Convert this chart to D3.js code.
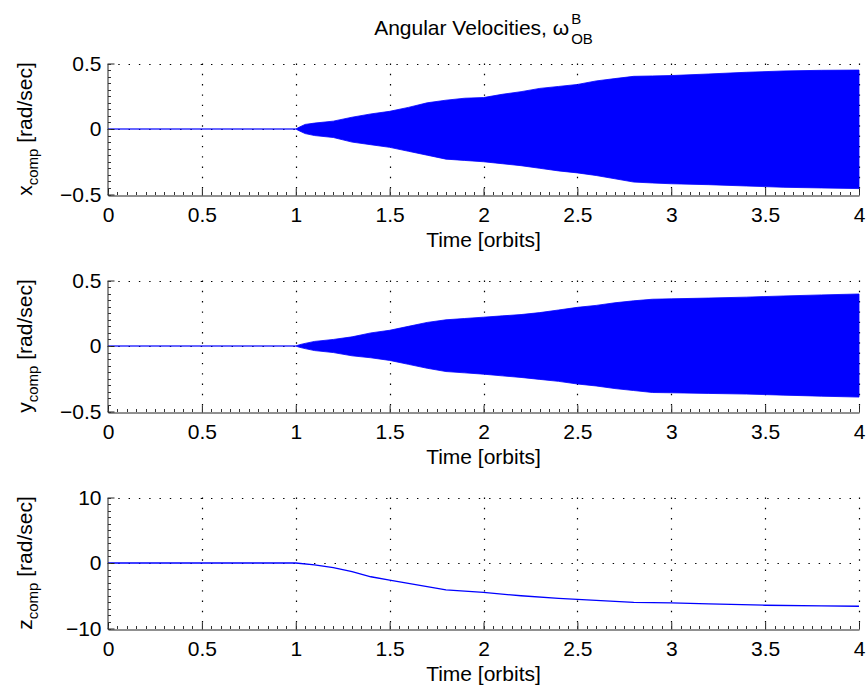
<!DOCTYPE html>
<html>
<head>
<meta charset="utf-8">
<script src="https://cdn.jsdelivr.net/npm/d3@7"></script>
<style>
  html, body { margin: 0; padding: 0; background: #fff; }
  svg { display: block; }
  text { font-family: "Liberation Sans", Arial, Helvetica, sans-serif; fill: #000; }
</style>
</head>
<body>
<script>
// ---------------- data ----------------
const xTicks = [0, 0.5, 1, 1.5, 2, 2.5, 3, 3.5, 4];
const xTickLabels = ["0", "0.5", "1", "1.5", "2", "2.5", "3", "3.5", "4"];
const yTicksSmall = [-0.5, 0, 0.5];
const yTickLabelsSmall = ["\u22120.5", "0", "0.5"];
const yTicksZ = [-10, 0, 10];
const yTickLabelsZ = ["\u221210", "0", "10"];

// flat segment before the manoeuvre
const flatT = [0, 1];
const flatV = [0, 0];

// envelope of the dense oscillation (x and y components)
const envT   = [1.0, 1.02, 1.05, 1.1, 1.2, 1.3, 1.4, 1.5, 1.6, 1.7, 1.8, 1.9, 2.0, 2.1, 2.2, 2.3, 2.4, 2.5, 2.6, 2.7, 2.8, 2.9, 3.0, 3.2, 3.4, 3.6, 3.8, 4.0];
const xUpper = [0, 0.015, 0.035, 0.045, 0.06, 0.09, 0.115, 0.135, 0.165, 0.20, 0.22, 0.235, 0.24, 0.265, 0.285, 0.31, 0.325, 0.34, 0.367, 0.385, 0.402, 0.405, 0.408, 0.42, 0.433, 0.443, 0.448, 0.45];
const xLower = [0, -0.015, -0.035, -0.05, -0.065, -0.10, -0.12, -0.14, -0.17, -0.20, -0.23, -0.24, -0.25, -0.265, -0.28, -0.30, -0.32, -0.335, -0.355, -0.38, -0.405, -0.412, -0.418, -0.425, -0.435, -0.445, -0.45, -0.455];
const yUpper = [0, 0.01, 0.02, 0.035, 0.05, 0.07, 0.10, 0.12, 0.15, 0.18, 0.20, 0.21, 0.22, 0.23, 0.24, 0.255, 0.275, 0.295, 0.31, 0.33, 0.345, 0.357, 0.36, 0.366, 0.373, 0.382, 0.39, 0.397];
const yLower = [0, -0.01, -0.02, -0.035, -0.05, -0.075, -0.09, -0.11, -0.14, -0.17, -0.195, -0.205, -0.215, -0.228, -0.24, -0.255, -0.27, -0.29, -0.305, -0.325, -0.34, -0.355, -0.357, -0.362, -0.367, -0.375, -0.383, -0.39];

// z component
const zT = [0, 1.0, 1.1, 1.2, 1.3, 1.4, 1.5, 1.6, 1.7, 1.8, 1.9, 2.0, 2.2, 2.4, 2.5, 2.6, 2.8, 3.0, 3.2, 3.5, 3.8, 4.0];
const zV = [0, 0, -0.3, -0.7, -1.3, -2.1, -2.6, -3.1, -3.6, -4.1, -4.3, -4.5, -5.0, -5.4, -5.55, -5.7, -6.0, -6.1, -6.25, -6.45, -6.55, -6.6];

const titleMain = "Angular Velocities, \u03c9";
const titleSup = "B";
const titleSub = "OB";
const xLabelText = "Time [orbits]";
const yLabelMain = ["x", "y", "z"];
const yLabelSub = "comp";
const yLabelTail = " [rad/sec]";

// ---------------- layout ----------------
const W = 866, H = 691;
const left = 108, right = 859;
const panelTops = [63.5, 280.5, 497.5];
const panelH = 131;
const FS = 21;

const svg = d3.select("body").append("svg").attr("width", W).attr("height", H);

const x = d3.scaleLinear().domain([0, 4]).range([left, right]);

function drawPanel(i, yDomain, yTicks, yLabels, drawData) {
  const top = panelTops[i], bottom = top + panelH;
  const y = d3.scaleLinear().domain(yDomain).range([bottom, top]);
  const g = svg.append("g");

  // grid (dotted)
  const grid = g.append("g").attr("stroke", "#000").attr("stroke-width", 1.2)
    .attr("stroke-dasharray", "1.4,8.9").attr("fill", "none");
  xTicks.filter(t => t > 0).forEach(t => {
    grid.append("line").attr("x1", Math.round(x(t)) + 0.5).attr("x2", Math.round(x(t)) + 0.5)
      .attr("y1", top).attr("y2", bottom);
  });
  yTicks.filter(t => t > yDomain[0]).forEach(t => {
    grid.append("line").attr("y1", Math.round(y(t)) + 0.5).attr("y2", Math.round(y(t)) + 0.5)
      .attr("x1", left).attr("x2", right);
  });

  drawData(g, y);

  // axes (left and bottom only, ticks inward)
  const xAxis = d3.axisBottom(x).tickValues(xTicks).tickFormat((d, k) => xTickLabels[k])
    .tickSizeInner(-7).tickSizeOuter(0).tickPadding(11.5);
  const ax = g.append("g").attr("transform", `translate(0,${Math.round(bottom) + 0.5})`).call(xAxis);
  const yAxis = d3.axisLeft(y).tickValues(yTicks).tickFormat((d, k) => yLabels[k])
    .tickSizeInner(-7).tickSizeOuter(0).tickPadding(6);
  const ay = g.append("g").attr("transform", `translate(${left - 0.5},0)`).call(yAxis);
  [ax, ay].forEach(a => {
    a.select(".domain").attr("stroke", "#222");
    a.selectAll(".tick line").attr("stroke", "#222");
    a.selectAll("text").attr("font-size", FS).attr("font-family", '"Liberation Sans", Arial, sans-serif').attr("fill", "#000");
  });

  // minor ticks
  const minor = g.append("g").attr("stroke", "#333").attr("stroke-width", 1);
  const xm = d3.range(0, 4.0001, 0.05);
  xm.forEach(t => {
    minor.append("line").attr("x1", Math.round(x(t)) + 0.5).attr("x2", Math.round(x(t)) + 0.5)
      .attr("y1", Math.round(bottom)).attr("y2", Math.round(bottom) - 3);
  });
  const step = (yDomain[1] - yDomain[0]) / 20;
  d3.range(0, 21).map(k => yDomain[0] + k * step).forEach(t => {
    minor.append("line").attr("y1", Math.round(y(t)) + 0.5).attr("y2", Math.round(y(t)) + 0.5)
      .attr("x1", left).attr("x2", left + 3);
  });

  // x label
  g.append("text").attr("x", (left + right) / 2).attr("y", bottom + 52)
    .attr("text-anchor", "middle").attr("font-size", FS).text(xLabelText);

  // y label
  const yl = g.append("text").attr("transform", `translate(32,${(top + bottom) / 2}) rotate(-90)`)
    .attr("text-anchor", "middle").attr("font-size", FS);
  yl.append("tspan").text(yLabelMain[i]);
  yl.append("tspan").attr("font-size", 15).attr("dy", 6).text(yLabelSub);
  yl.append("tspan").attr("dy", -6).text(yLabelTail);
}

function envelopePanel(upper, lower) {
  return (g, y) => {
    const flat = flatT.map((t, k) => ({ t, v: flatV[k] }));
    g.append("path").datum(flat)
      .attr("d", d3.line().x(d => x(d.t)).y(d => y(d.v)))
      .attr("stroke", "#0000ff").attr("stroke-opacity", 0.8).attr("stroke-width", 1.5).attr("fill", "none");
    const env = envT.map((t, k) => ({ t, hi: upper[k], lo: lower[k] }));
    g.append("path").datum(env)
      .attr("d", d3.area().x(d => x(d.t)).y0(d => y(d.lo)).y1(d => y(d.hi)))
      .attr("fill", "#0000ff").attr("stroke", "#0000ff").attr("stroke-width", 0.8);
  };
}

drawPanel(0, [-0.5, 0.5], yTicksSmall, yTickLabelsSmall, envelopePanel(xUpper, xLower));
drawPanel(1, [-0.5, 0.5], yTicksSmall, yTickLabelsSmall, envelopePanel(yUpper, yLower));
drawPanel(2, [-10, 10], yTicksZ, yTickLabelsZ, (g, y) => {
  const pts = zT.map((t, k) => ({ t, v: zV[k] }));
  g.append("path").datum(pts)
    .attr("d", d3.line().x(d => x(d.t)).y(d => y(d.v)))
    .attr("stroke", "#0000ff").attr("stroke-width", 1.3).attr("fill", "none");
});

// title with stacked super/subscript
const tg = svg.append("g");
const tMain = tg.append("text").attr("y", 35).attr("font-size", FS).text(titleMain);
const wMain = tMain.node().getComputedTextLength();
const tSup = tg.append("text").attr("y", 24).attr("font-size", 15).text(titleSup);
const tSub = tg.append("text").attr("y", 44).attr("font-size", 15).text(titleSub);
const wScript = Math.max(tSup.node().getComputedTextLength(), tSub.node().getComputedTextLength());
const total = wMain + 2 + wScript;
const startX = (left + right) / 2 - total / 2;
tMain.attr("x", startX);
tSup.attr("x", startX + wMain + 2);
tSub.attr("x", startX + wMain + 2);
</script>
</body>
</html>
